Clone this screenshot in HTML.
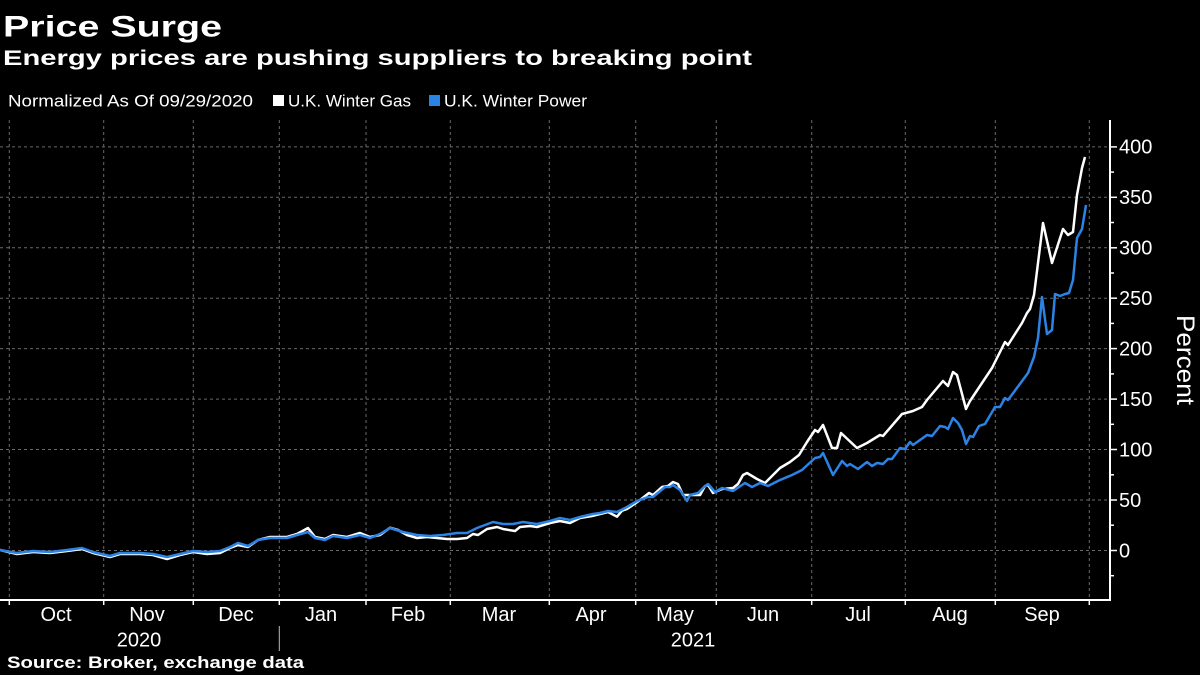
<!DOCTYPE html>
<html>
<head>
<meta charset="utf-8">
<style>
html,body{margin:0;padding:0;background:#000;}
svg{display:block;}
text{font-family:"Liberation Sans",sans-serif;fill:#fff;}
</style>
</head>
<body>
<svg width="1200" height="675" viewBox="0 0 1200 675" xmlns="http://www.w3.org/2000/svg">
<rect width="1200" height="675" fill="#000"/>
<!-- Titles -->
<text x="3" y="36.7" font-size="30" font-weight="bold" textLength="219" lengthAdjust="spacingAndGlyphs">Price Surge</text>
<text x="3" y="65" font-size="21" font-weight="bold" textLength="749" lengthAdjust="spacingAndGlyphs">Energy prices are pushing suppliers to breaking point</text>
<!-- Legend -->
<text x="8" y="106.5" font-size="17" textLength="245" lengthAdjust="spacingAndGlyphs">Normalized As Of 09/29/2020</text>
<rect x="273" y="95" width="11" height="11" fill="#fff"/>
<text x="288" y="106.5" font-size="17" textLength="123" lengthAdjust="spacingAndGlyphs">U.K. Winter Gas</text>
<rect x="429" y="95" width="11" height="11" fill="#2b83e6"/>
<text x="444" y="106.5" font-size="17" textLength="143" lengthAdjust="spacingAndGlyphs">U.K. Winter Power</text>

<!-- Gridlines -->
<g stroke="#6a6a6a" stroke-width="1" stroke-dasharray="3,3" fill="none">
<line x1="0" y1="146.9" x2="1110" y2="146.9"/>
<line x1="0" y1="197.3" x2="1110" y2="197.3"/>
<line x1="0" y1="247.8" x2="1110" y2="247.8"/>
<line x1="0" y1="298.2" x2="1110" y2="298.2"/>
<line x1="0" y1="348.6" x2="1110" y2="348.6"/>
<line x1="0" y1="399.1" x2="1110" y2="399.1"/>
<line x1="0" y1="449.5" x2="1110" y2="449.5"/>
<line x1="0" y1="500" x2="1110" y2="500"/>
<line x1="0" y1="550.5" x2="1110" y2="550.5"/>
<line x1="9.3" y1="120" x2="9.3" y2="600"/>
<line x1="103.7" y1="120" x2="103.7" y2="600"/>
<line x1="193.3" y1="120" x2="193.3" y2="600"/>
<line x1="279.3" y1="120" x2="279.3" y2="600"/>
<line x1="366" y1="120" x2="366" y2="600"/>
<line x1="450.3" y1="120" x2="450.3" y2="600"/>
<line x1="549.3" y1="120" x2="549.3" y2="600"/>
<line x1="635.7" y1="120" x2="635.7" y2="600"/>
<line x1="716.3" y1="120" x2="716.3" y2="600"/>
<line x1="811.7" y1="120" x2="811.7" y2="600"/>
<line x1="905.3" y1="120" x2="905.3" y2="600"/>
<line x1="995.3" y1="120" x2="995.3" y2="600"/>
<line x1="1089.3" y1="120" x2="1089.3" y2="600"/>
</g>

<!-- Series -->
<polyline fill="none" stroke="#ffffff" stroke-width="2.5" stroke-linejoin="round" points="0,550 17,554 33,552 50,553 67,551 82,549 93,553 110,557 120,554 140,554 153,555 167,559 180,555 193,552 207,554 220,553 230,548 238,545 248,547 258,540 270,537 287,537 297,534 308,528 315,537 325,539 333,535 347,537 360,533 370,537 380,535 390,527.7 398,530 407,535 417,538 427,537 447,539 457,539 467,538 473,534 478,535 487,529 497,527 503,529 515,531 520,527 530,526 537,527 550,523 560,521 570,523 580,518 592,516 600,514 608,512 617,516.7 622,510.7 627,509 633,505 640,500 649,493 653,495 662,487 668,486 673,482 678,484 683,495 690,495 700,495 705,486 708,485 713,493 722,489 733,488 738,484 743,475 747,473 757,479 765,483 780,468 790,462 799,455 807,442 815,430 818,432 823,425 832,448 837,448 841,433 857,448 867,443 880,435 883,436 902,414 913,411 922,407 927,400 943,381 948,386 953,372 957,375 966,409 970,401 992,368 1005,342 1008,345 1022,323 1027,313 1030,309 1034,295 1043,223 1052,263 1063,229 1068,235 1073,232 1077,195 1082,168 1085,157"/>
<polyline fill="none" stroke="#2b83e6" stroke-width="2.5" stroke-linejoin="round" points="0,550 17,553 33,551 50,552 67,550 82,548 93,552 110,556 120,553 140,553 153,554 167,557 180,554 193,551 207,552 220,551 230,547 238,543 248,546 258,540 270,538 287,538 297,535 308,532 315,538 325,540 333,536 347,538 360,535 370,538 380,534 390,528 403,532 417,535 430,536 443,535 457,533 467,533 477,528 493,522 503,524 513,524 523,522 537,524 550,521 560,518 570,520 580,517 593,514 600,513 608,511 617,512 627,507 637,501 648,497 653,497 665,487 670,487 673,485 680,490 687,501 690,495 698,493 705,486 708,484 715,492 722,488 733,491 745,483 752,487 760,483 768,486 780,480 792,475 802,470 815,458 820,457 823,453 833,475 842,461 847,466 850,464 858,469 867,462 872,466 877,463 883,464 888,459 892,459 900,448 905,449 910,442 913,445 927,435 932,436 940,426 945,427 948,429 953,418 958,423 962,430 966,444 970,436 973,437 979,426 985,424 995,407 1000,407 1005,398 1008,400 1028,373 1034,357 1038,338 1042,297 1047,334 1052,330 1055,294 1060,296 1065,294 1069,293 1073,280 1077,238 1082,229 1086,205"/>

<!-- Axes -->
<g stroke="#fff" stroke-width="2" fill="none">
<line x1="0" y1="600" x2="1111" y2="600"/>
<line x1="1110" y1="120" x2="1110" y2="601"/>
</g>
<g stroke="#fff" stroke-width="1.5">
<line x1="9.3" y1="600" x2="9.3" y2="605"/>
<line x1="103.7" y1="600" x2="103.7" y2="605"/>
<line x1="193.3" y1="600" x2="193.3" y2="605"/>
<line x1="279.3" y1="600" x2="279.3" y2="605"/>
<line x1="366" y1="600" x2="366" y2="605"/>
<line x1="450.3" y1="600" x2="450.3" y2="605"/>
<line x1="549.3" y1="600" x2="549.3" y2="605"/>
<line x1="635.7" y1="600" x2="635.7" y2="605"/>
<line x1="716.3" y1="600" x2="716.3" y2="605"/>
<line x1="811.7" y1="600" x2="811.7" y2="605"/>
<line x1="905.3" y1="600" x2="905.3" y2="605"/>
<line x1="995.3" y1="600" x2="995.3" y2="605"/>
<line x1="1089.3" y1="600" x2="1089.3" y2="605"/>
<!-- y major ticks -->
<line x1="1110" y1="146.9" x2="1117" y2="146.9"/>
<line x1="1110" y1="197.3" x2="1117" y2="197.3"/>
<line x1="1110" y1="247.8" x2="1117" y2="247.8"/>
<line x1="1110" y1="298.2" x2="1117" y2="298.2"/>
<line x1="1110" y1="348.6" x2="1117" y2="348.6"/>
<line x1="1110" y1="399.1" x2="1117" y2="399.1"/>
<line x1="1110" y1="449.5" x2="1117" y2="449.5"/>
<line x1="1110" y1="500" x2="1117" y2="500"/>
<line x1="1110" y1="550.5" x2="1117" y2="550.5"/>
<!-- y minor ticks -->
<line x1="1110" y1="172.1" x2="1114" y2="172.1"/>
<line x1="1110" y1="222.5" x2="1114" y2="222.5"/>
<line x1="1110" y1="273" x2="1114" y2="273"/>
<line x1="1110" y1="323.4" x2="1114" y2="323.4"/>
<line x1="1110" y1="373.9" x2="1114" y2="373.9"/>
<line x1="1110" y1="424.3" x2="1114" y2="424.3"/>
<line x1="1110" y1="474.8" x2="1114" y2="474.8"/>
<line x1="1110" y1="525.2" x2="1114" y2="525.2"/>
<line x1="1110" y1="575.7" x2="1114" y2="575.7"/>
</g>
<line x1="279.3" y1="626" x2="279.3" y2="651" stroke="#bbb" stroke-width="1"/>

<!-- Y labels -->
<g font-size="20">
<text x="1119" y="153.5">400</text>
<text x="1119" y="204">350</text>
<text x="1119" y="254.5">300</text>
<text x="1119" y="305">250</text>
<text x="1119" y="355.5">200</text>
<text x="1119" y="406">150</text>
<text x="1119" y="456.5">100</text>
<text x="1119" y="507">50</text>
<text x="1119" y="557.5">0</text>
</g>
<text transform="translate(1177,360) rotate(90)" text-anchor="middle" font-size="25" textLength="90" lengthAdjust="spacingAndGlyphs">Percent</text>

<!-- X labels -->
<g font-size="20" text-anchor="middle">
<text x="56" y="621">Oct</text>
<text x="147" y="621">Nov</text>
<text x="236" y="621">Dec</text>
<text x="321" y="621">Jan</text>
<text x="408" y="621">Feb</text>
<text x="499" y="621">Mar</text>
<text x="591" y="621">Apr</text>
<text x="675" y="621">May</text>
<text x="763" y="621">Jun</text>
<text x="858" y="621">Jul</text>
<text x="950" y="621">Aug</text>
<text x="1042" y="621">Sep</text>
<text x="139" y="646.5">2020</text>
<text x="693" y="646.5">2021</text>
</g>

<!-- Source -->
<text x="7" y="668" font-size="17" font-weight="bold" textLength="297" lengthAdjust="spacingAndGlyphs">Source: Broker, exchange data</text>
</svg>
</body>
</html>
